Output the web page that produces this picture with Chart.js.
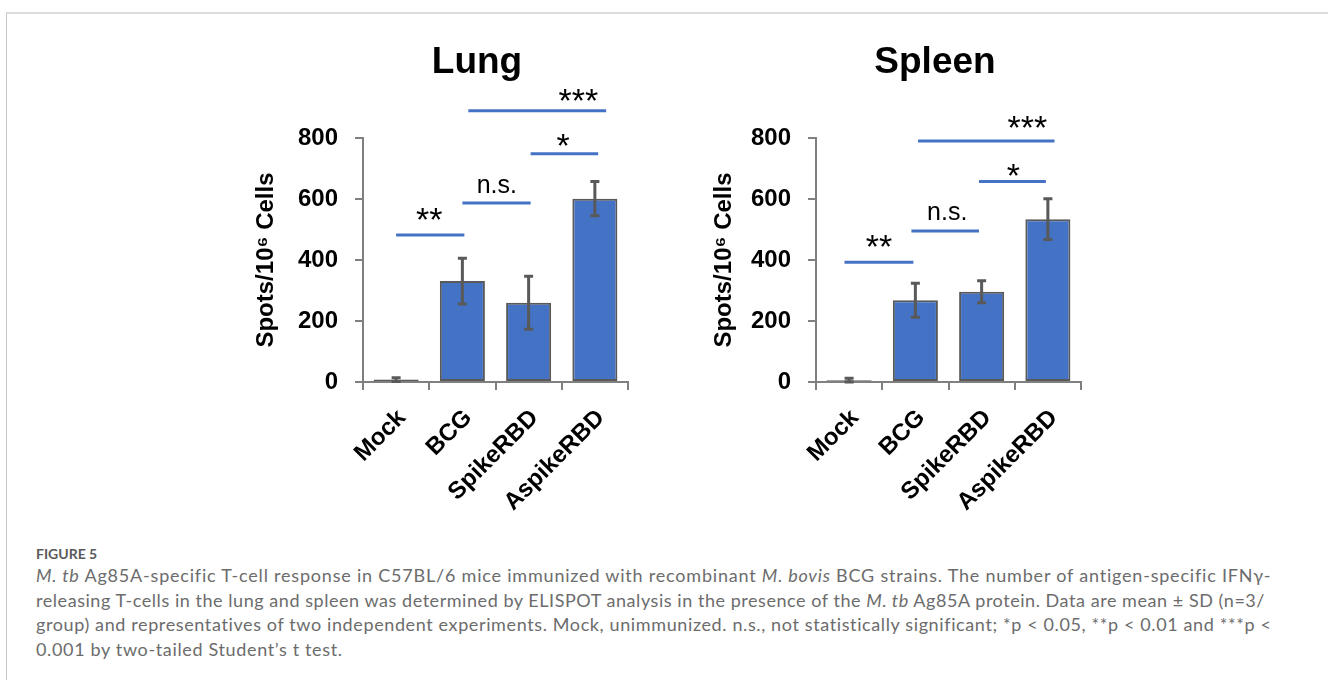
<!DOCTYPE html>
<html>
<head>
<meta charset="utf-8">
<script src="https://cdn.jsdelivr.net/npm/chart.js@4.4.1/dist/chart.umd.min.js"></script>
<style>
  html, body { margin: 0; padding: 0; background: #fff; }
  body { width: 1328px; height: 680px; position: relative; overflow: hidden; }
  #frame { position: absolute; left: 6px; top: 12px; width: 1330px; height: 680px;
           border-top: 2px solid #dcdcdc; border-left: 1px solid #c8c8c8; }
  .cv { position: absolute; top: 0; }
  #lungWrap { left: 230px; width: 494px; height: 540px; }
  #spleenWrap { left: 700px; width: 470px; height: 540px; }
  #caption { position: absolute; left: 36px; top: 545px; font-family: Lato, "Open Sans", sans-serif;
             color: #6c6c6c; white-space: nowrap; }
  #caption .fig { font-size: 14px; font-weight: 700; color: #5a5a5a; line-height: 18px; }
  #caption .ln { font-size: 18px; line-height: 24.7px; font-weight: 400; }
  #caption .ln span { display: inline-block; }
</style>
</head>
<body>
<div id="frame"></div>
<div class="cv" id="lungWrap"><canvas id="lung"></canvas></div>
<div class="cv" id="spleenWrap"><canvas id="spleen"></canvas></div>
<div id="caption">
  <div class="fig">FIGURE 5</div>
  <div class="ln"><span data-w="1235"><i>M. tb</i> Ag85A-specific T-cell response in C57BL/6 mice immunized with recombinant <i>M. bovis</i> BCG strains. The number of antigen-specific IFNγ-</span></div>
  <div class="ln"><span data-w="1229">releasing T-cells in the lung and spleen was determined by ELISPOT analysis in the presence of the <i>M. tb</i> Ag85A protein. Data are mean ± SD (n=3/</span></div>
  <div class="ln"><span data-w="1236">group) and representatives of two independent experiments. Mock, unimmunized. n.s., not statistically significant; *p &lt; 0.05, **p &lt; 0.01 and ***p &lt;</span></div>
  <div class="ln"><span>0.001 by two-tailed Student’s t test.</span></div>
</div>
<script>
// ---- data ----
const categories = ['Mock', 'BCG', 'SpikeRBD', 'AspikeRBD'];
const lungMean = [8, 331, 260, 601];
const lungSD = [6, 75, 87, 56];
const spleenMean = [6, 268, 296, 534];
const spleenSD = [6, 56, 36, 67];
const yTicks = [0, 200, 400, 600, 800];

// significance annotations (category index span, bar height in data units, label centre)
const sigLabels = ['**', 'n.s.', '*', '***'];
const lungSigFrom = [0, 1, 2.03, 1.09];
const lungSigTo = [1.03, 2.03, 3.05, 3.17];
const lungSigY = [482, 587, 748, 889];
const lungSigTextX = [0.5, 1.52, 2.52, 2.75];
const lungSigTextY = [552, 643, 793, 940];
const spleenSigFrom = [-0.07, 0.94, 1.96, 1.04];
const spleenSigTo = [0.97, 1.96, 2.97, 3.1];
const spleenSigY = [393, 495, 657, 790];
const spleenSigTextX = [0.45, 1.48, 2.48, 2.69];
const spleenSigTextY = [461, 555, 695, 851];

const BLUE = '#4472C4';
const DARK = '#595959';
const AXIS = '#808080';
const FONT = '"Liberation Sans", Arial, sans-serif';

const overlay = {
  id: 'overlay',
  afterDatasetsDraw(chart, args, o) {
    const { ctx } = chart;
    const x = chart.scales.x, y = chart.scales.y;
    ctx.save();
    // panel title, centred on the canvas
    ctx.font = 'bold 37px ' + FONT;
    ctx.fillStyle = '#000';
    ctx.textAlign = 'center';
    ctx.textBaseline = 'middle';
    ctx.fillText(o.title, chart.width / 2, 63);
    // error bars
    ctx.strokeStyle = DARK;
    ctx.lineWidth = 3;
    ctx.lineCap = 'butt';
    o.mean.forEach((m, i) => {
      const px = x.getPixelForValue(i);
      const t = y.getPixelForValue(m + o.sd[i]);
      const b = y.getPixelForValue(Math.max(0, m - o.sd[i]));
      ctx.beginPath();
      ctx.moveTo(px, t); ctx.lineTo(px, b);
      ctx.moveTo(px - 4.5, t); ctx.lineTo(px + 4.5, t);
      ctx.moveTo(px - 4.5, b); ctx.lineTo(px + 4.5, b);
      ctx.stroke();
    });
    // significance bars
    ctx.strokeStyle = BLUE;
    ctx.lineWidth = 3;
    o.labels.forEach((lab, i) => {
      const yy = y.getPixelForValue(o.sy[i]);
      ctx.beginPath();
      ctx.moveTo(x.getPixelForValue(o.from[i]), yy);
      ctx.lineTo(x.getPixelForValue(o.to[i]), yy);
      ctx.stroke();
      const isStar = /^\*+$/.test(lab);
      ctx.font = (isStar ? '34px ' : '25px ') + FONT;
      ctx.fillStyle = '#000';
      ctx.textAlign = 'center';
      ctx.textBaseline = 'alphabetic';
      const mt = ctx.measureText(lab);
      const cy = y.getPixelForValue(o.ty[i]);
      const by = cy + (mt.actualBoundingBoxAscent - mt.actualBoundingBoxDescent) / 2;
      ctx.fillText(lab, x.getPixelForValue(o.tx[i]), by);
    });
    ctx.restore();
  }
};

function makeChart(id, title, mean, sd, sig, yWidth, titlePad, padRight) {
  return new Chart(document.getElementById(id), {
    type: 'bar',
    data: {
      labels: categories,
      datasets: [{
        data: mean,
        backgroundColor: BLUE,
        borderColor: DARK,
        borderWidth: 2,
        borderSkipped: false,
        barPercentage: 0.68,
        categoryPercentage: 1.0
      }]
    },
    plugins: [overlay],
    options: {
      responsive: true,
      maintainAspectRatio: false,
      animation: false,
      events: [],
      layout: { padding: { left: 0, right: padRight, top: 138, bottom: 8 } },
      plugins: {
        legend: { display: false },
        tooltip: { enabled: false },
        title: { display: false },
        overlay: { title: title, mean: mean, sd: sd, labels: sigLabels, from: sig.from, to: sig.to, sy: sig.y, tx: sig.tx, ty: sig.ty }
      },
      scales: {
        x: {
          offset: true,
          afterFit: s => { s.height = 150; },
          grid: { display: true, offset: true, drawOnChartArea: false, drawTicks: true, tickLength: 8, color: AXIS, lineWidth: 2 },
          border: { display: true, color: AXIS, width: 2 },
          ticks: {
            color: '#000', autoSkip: false, minRotation: 45, maxRotation: 45, padding: 14, labelOffset: 6,
            font: { family: FONT, size: 24, weight: 'bold' }
          }
        },
        y: {
          min: 0, max: 800,
          afterFit: s => { s.width = yWidth; },
          afterBuildTicks: s => { s.ticks = yTicks.map(v => ({ value: v })); },
          grid: { display: true, drawOnChartArea: false, drawTicks: true, tickLength: 8, color: AXIS, lineWidth: 2 },
          border: { display: true, color: AXIS, width: 2 },
          ticks: { color: '#000', padding: 17, font: { family: FONT, size: 24, weight: 'bold' } },
          title: {
            display: true,
            text: 'Spots/10⁶ Cells',
            color: '#000',
            font: { family: FONT, size: 24, weight: 'bold', lineHeight: 1.2 },
            padding: { top: titlePad, bottom: 0 }
          }
        }
      }
    }
  });
}

makeChart('lung', 'Lung', lungMean, lungSD,
  { from: lungSigFrom, to: lungSigTo, y: lungSigY, tx: lungSigTextX, ty: lungSigTextY },
  133, 21.6, 96);
makeChart('spleen', 'Spleen', spleenMean, spleenSD,
  { from: spleenSigFrom, to: spleenSigTo, y: spleenSigY, tx: spleenSigTextX, ty: spleenSigTextY },
  116, 9.6, 89);

// fit full caption lines to the width they span in the figure; last line uses the mean spacing
(function () {
  const spans = Array.from(document.querySelectorAll('#caption .ln span'));
  const vals = [];
  spans.forEach(s => {
    if (!s.dataset.w) return;
    const ls = (+s.dataset.w - s.getBoundingClientRect().width) / s.textContent.length;
    vals.push(ls);
    s.style.letterSpacing = ls.toFixed(3) + 'px';
  });
  const avg = vals.reduce((a, b) => a + b, 0) / vals.length;
  spans.forEach(s => { if (!s.dataset.w) s.style.letterSpacing = avg.toFixed(3) + 'px'; });
})();
</script>
</body>
</html>
